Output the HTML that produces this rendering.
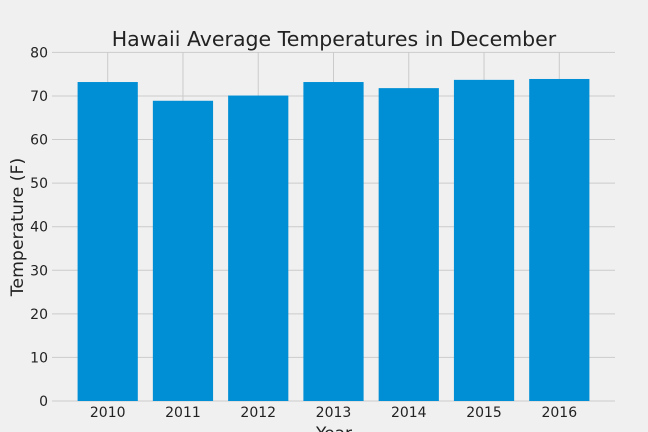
<!DOCTYPE html>
<html><head><meta charset="utf-8"><style>
body{margin:0;background:#f0f0f0;}
svg{display:block;font-family:"DejaVu Sans","Liberation Sans",sans-serif;}
</style></head><body>
<svg id="chart" width="648" height="432">
<rect width="648" height="432" fill="#f0f0f0"/>
<text x="334" y="46" text-anchor="middle" font-size="20.5" fill="#222">Hawaii Average Temperatures in December</text>
<g id="grid"></g><g id="bars"></g><g id="ticks"></g>
<text x="334" y="439" text-anchor="middle" font-size="17" fill="#222">Year</text>
<text transform="translate(23,227) rotate(-90)" text-anchor="middle" font-size="17.3" fill="#222">Temperature (F)</text>
</svg>
<script>
const years = ["2010","2011","2012","2013","2014","2015","2016"];
const temps = [73.2, 68.9, 70.1, 73.2, 71.8, 73.7, 73.9];
const yTicks = [0,10,20,30,40,50,60,70,80];
const NS="http://www.w3.org/2000/svg";
const L=52,R=615,T=52.4,B=401;
const xmin=-0.74,xmax=years.length-1+0.74;
function xs(i){return L+(i-xmin)/(xmax-xmin)*(R-L);}
function ys(v){return B-v/80*(B-T);}
function mk(t,a,p){const e=document.createElementNS(NS,t);for(const k in a)e.setAttribute(k,a[k]);p.appendChild(e);return e;}
const g=document.getElementById('grid'),b=document.getElementById('bars'),tk=document.getElementById('ticks');
yTicks.forEach(v=>{
  const l=mk('line',{x1:L,x2:R,y1:ys(v),y2:ys(v),stroke:'#cbcbcb','stroke-width':1},g);
  
  
  const t=mk('text',{x:L-4,y:ys(v)+5,'text-anchor':'end','font-size':14,fill:'#222'},tk);
  t.textContent=v;
  
  
});
const w=(xs(1)-xs(0))*0.8;
years.forEach((y,i)=>{
  const l=mk('line',{x1:xs(i),x2:xs(i),y1:T,y2:B,stroke:'#cbcbcb','stroke-width':1},g);
  
  
  const r=mk('rect',{x:xs(i)-w/2,y:ys(temps[i]),width:w,height:B-ys(temps[i]),fill:'#008fd5'},b);
  
  
  const t=mk('text',{x:xs(i),y:B+16,'text-anchor':'middle','font-size':14,fill:'#222'},tk);
  t.textContent=y;
  
  
});
</script>
</body></html>
